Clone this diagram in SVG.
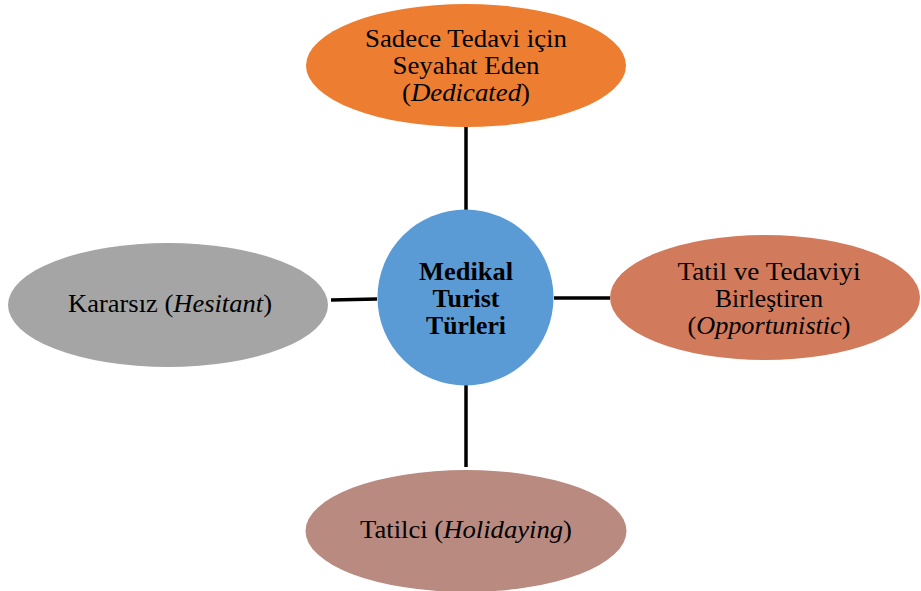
<svg xmlns="http://www.w3.org/2000/svg" width="921" height="591" viewBox="0 0 921 591">
  <style>
    text { font-family: "Liberation Serif", "Times New Roman", serif; font-size: 24.5px; fill: #000; text-anchor: middle; }
    .b { font-weight: bold; }
    .i { font-style: italic; }
    .link { stroke: #000; stroke-width: 3.5; fill: none; }
  </style>
  <rect width="921" height="591" fill="#fff"/>

  <!-- connectors between the hub and the four types -->
  <g id="connectors">
    <line class="link" x1="466" y1="127" x2="466" y2="210"/>
    <line class="link" x1="554" y1="298" x2="610" y2="298"/>
    <line class="link" x1="331" y1="300" x2="377" y2="299"/>
    <line class="link" x1="466" y1="385" x2="466" y2="467"/>
  </g>

  <g id="hub">
    <circle cx="465.5" cy="297.5" r="88" fill="#5B9BD5"/>
    <text class="b" x="466" y="280" textLength="94" lengthAdjust="spacingAndGlyphs">Medikal</text>
    <text class="b" x="466" y="307" textLength="67" lengthAdjust="spacingAndGlyphs">Turist</text>
    <text class="b" x="466" y="334" textLength="80" lengthAdjust="spacingAndGlyphs">Türleri</text>
  </g>

  <g id="dedicated">
    <ellipse cx="466" cy="65.5" rx="160" ry="61.5" fill="#ED7D31"/>
    <text x="466" y="47" textLength="202" lengthAdjust="spacingAndGlyphs">Sadece Tedavi için</text>
    <text x="466" y="74" textLength="147" lengthAdjust="spacingAndGlyphs">Seyahat Eden</text>
    <text x="466" y="101" textLength="128" lengthAdjust="spacingAndGlyphs">(<tspan class="i">Dedicated</tspan>)</text>
  </g>

  <g id="opportunistic">
    <ellipse cx="765" cy="297.5" rx="155" ry="62.5" fill="#D17A5C"/>
    <text x="769" y="280" textLength="183" lengthAdjust="spacingAndGlyphs">Tatil ve Tedaviyi</text>
    <text x="769" y="307" textLength="108" lengthAdjust="spacingAndGlyphs">Birleştiren</text>
    <text x="769" y="334" textLength="163" lengthAdjust="spacingAndGlyphs">(<tspan class="i">Opportunistic</tspan>)</text>
  </g>

  <g id="hesitant">
    <ellipse cx="168" cy="305" rx="160" ry="62" fill="#A5A5A5"/>
    <text x="170" y="312" textLength="204" lengthAdjust="spacingAndGlyphs">Kararsız (<tspan class="i">Hesitant</tspan>)</text>
  </g>

  <g id="holidaying">
    <ellipse cx="466" cy="531" rx="160.5" ry="61" fill="#B98A80"/>
    <text x="466" y="538" textLength="212" lengthAdjust="spacingAndGlyphs">Tatilci (<tspan class="i">Holidaying</tspan>)</text>
  </g>
</svg>
